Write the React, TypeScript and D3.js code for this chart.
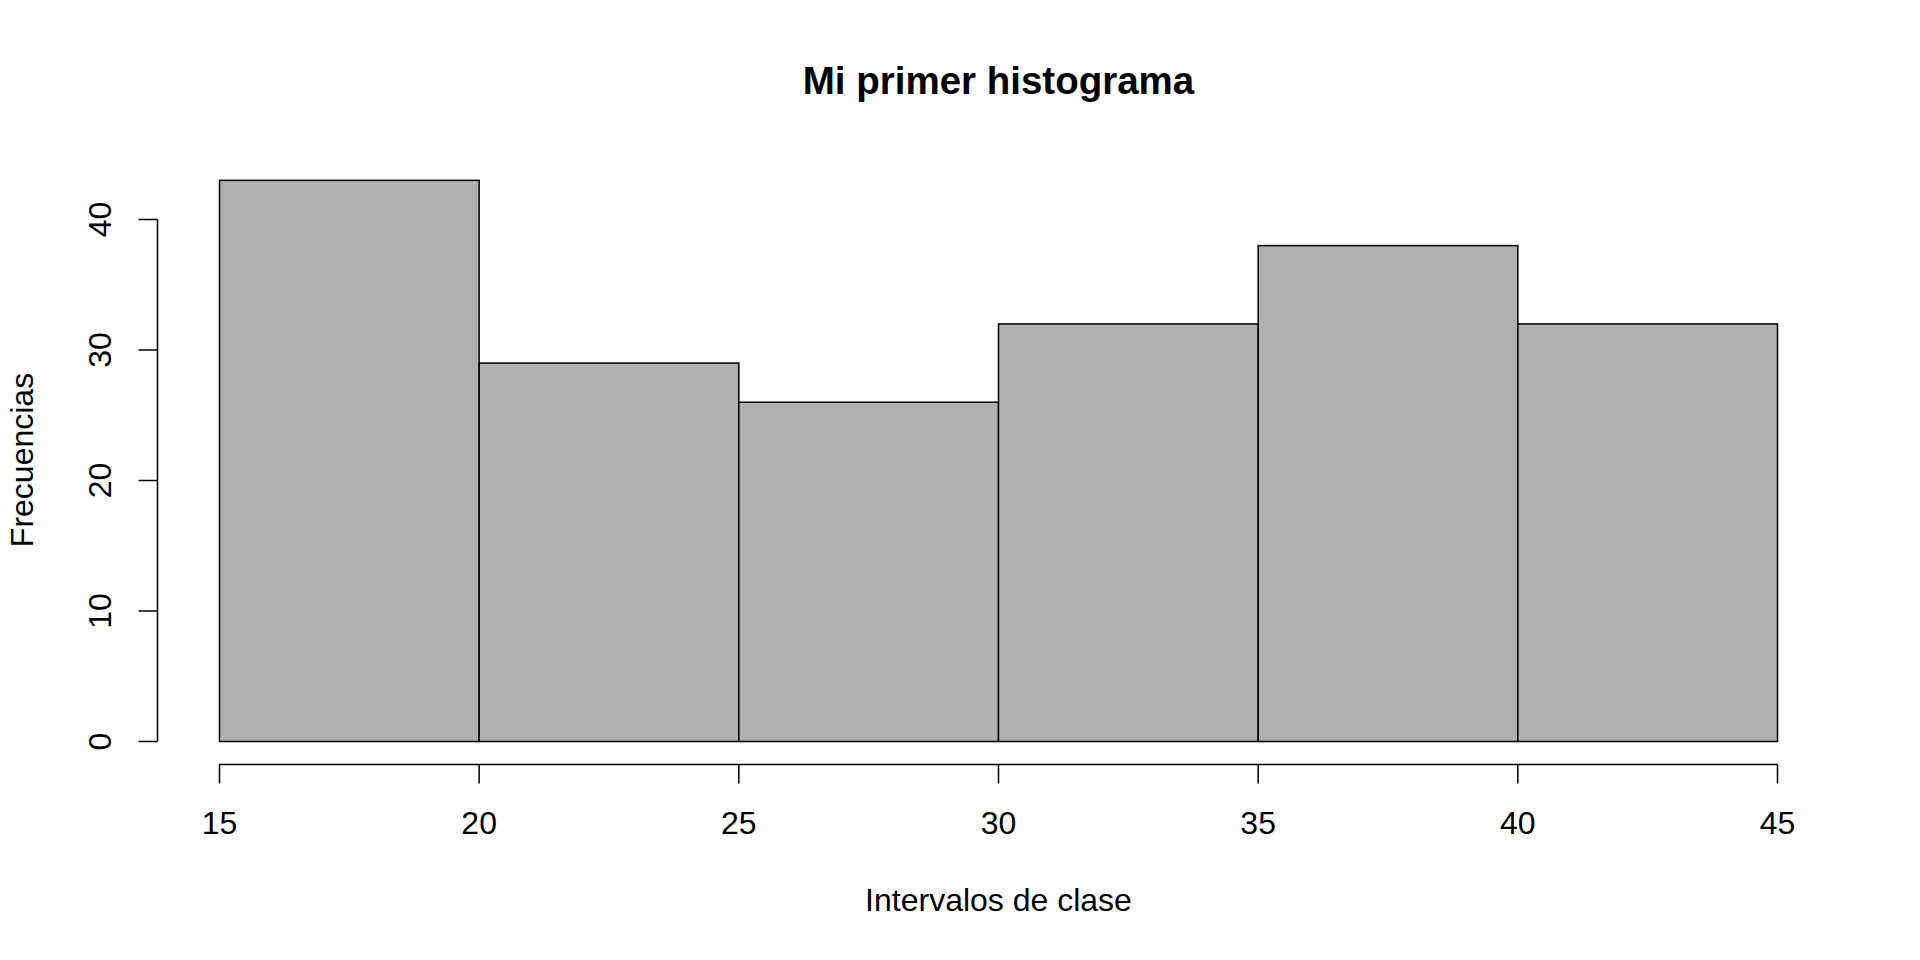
import React, { useEffect, useRef } from 'react';
import * as d3 from 'd3';

const breaks = [15, 20, 25, 30, 35, 40, 45];
const counts = [43, 29, 26, 32, 38, 32];
const yTicks = [0, 10, 20, 30, 40];
const title = 'Mi primer histograma';
const xLabel = 'Intervalos de clase';
const yLabel = 'Frecuencias';

const App: React.FC = () => {
  const svgRef = useRef<SVGSVGElement>(null);

  useEffect(() => {
    if (!svgRef.current) return;
    const width = 1920;
    const height = 960;
    const font = '"Liberation Sans", Arial, Helvetica, sans-serif';
    const fs = 32;

    const svg = d3.select(svgRef.current);
    svg.selectAll('*').remove();
    svg.attr('width', width).attr('height', height);

    svg.append('rect').attr('width', width).attr('height', height).attr('fill', '#fff');

    const x = d3.scaleLinear().domain([15, 45]).range([219.5, 1777.5]);
    const y = d3.scaleLinear().domain([0, 40]).range([741.5, 219.5]);

    const bins = counts.map((c, i) => ({ x0: breaks[i], x1: breaks[i + 1], c }));

    // bars
    svg.append('g')
      .selectAll('rect')
      .data(bins)
      .enter()
      .append('rect')
      .attr('x', d => x(d.x0))
      .attr('y', d => y(d.c))
      .attr('width', d => x(d.x1) - x(d.x0))
      .attr('height', d => y(0) - y(d.c))
      .attr('fill', '#b0b0b0')
      .attr('stroke', '#000')
      .attr('stroke-width', 1.5);

    // x axis (R style: detached below plot)
    const xAxisY = 764.5;
    const gx = svg.append('g');
    gx.append('line')
      .attr('x1', x(15)).attr('x2', x(45))
      .attr('y1', xAxisY).attr('y2', xAxisY)
      .attr('stroke', '#000').attr('stroke-width', 1.5);
    gx.selectAll('line.tick')
      .data(breaks)
      .enter()
      .append('line')
      .attr('class', 'tick')
      .attr('x1', d => x(d)).attr('x2', d => x(d))
      .attr('y1', xAxisY).attr('y2', xAxisY + 19)
      .attr('stroke', '#000').attr('stroke-width', 1.5);
    gx.selectAll('text')
      .data(breaks)
      .enter()
      .append('text')
      .attr('x', d => x(d))
      .attr('y', 834)
      .attr('text-anchor', 'middle')
      .attr('font-family', font)
      .attr('font-size', fs)
      .text(d => d);

    // y axis
    const yAxisX = 157.5;
    const gy = svg.append('g');
    gy.append('line')
      .attr('x1', yAxisX).attr('x2', yAxisX)
      .attr('y1', y(0)).attr('y2', y(40))
      .attr('stroke', '#000').attr('stroke-width', 1.5);
    gy.selectAll('line.tick')
      .data(yTicks)
      .enter()
      .append('line')
      .attr('class', 'tick')
      .attr('x1', yAxisX - 19).attr('x2', yAxisX)
      .attr('y1', d => y(d)).attr('y2', d => y(d))
      .attr('stroke', '#000').attr('stroke-width', 1.5);
    gy.selectAll('text')
      .data(yTicks)
      .enter()
      .append('text')
      .attr('transform', d => `translate(111,${y(d)}) rotate(-90)`)
      .attr('text-anchor', 'middle')
      .attr('font-family', font)
      .attr('font-size', fs)
      .text(d => d);

    // titles
    svg.append('text')
      .attr('x', 998.5).attr('y', 94)
      .attr('text-anchor', 'middle')
      .attr('font-family', font)
      .attr('font-weight', 'bold')
      .attr('font-size', 38.5)
      .text(title);

    svg.append('text')
      .attr('x', 998.5).attr('y', 911)
      .attr('text-anchor', 'middle')
      .attr('font-family', font)
      .attr('font-size', fs)
      .text(xLabel);

    svg.append('text')
      .attr('transform', `translate(33,460) rotate(-90)`)
      .attr('text-anchor', 'middle')
      .attr('font-family', font)
      .attr('font-size', fs)
      .text(yLabel);
  }, []);

  return (
    <svg ref={svgRef} style={{ position: 'absolute', left: 0, top: 0, display: 'block' }}></svg>
  );
};

export default App;
